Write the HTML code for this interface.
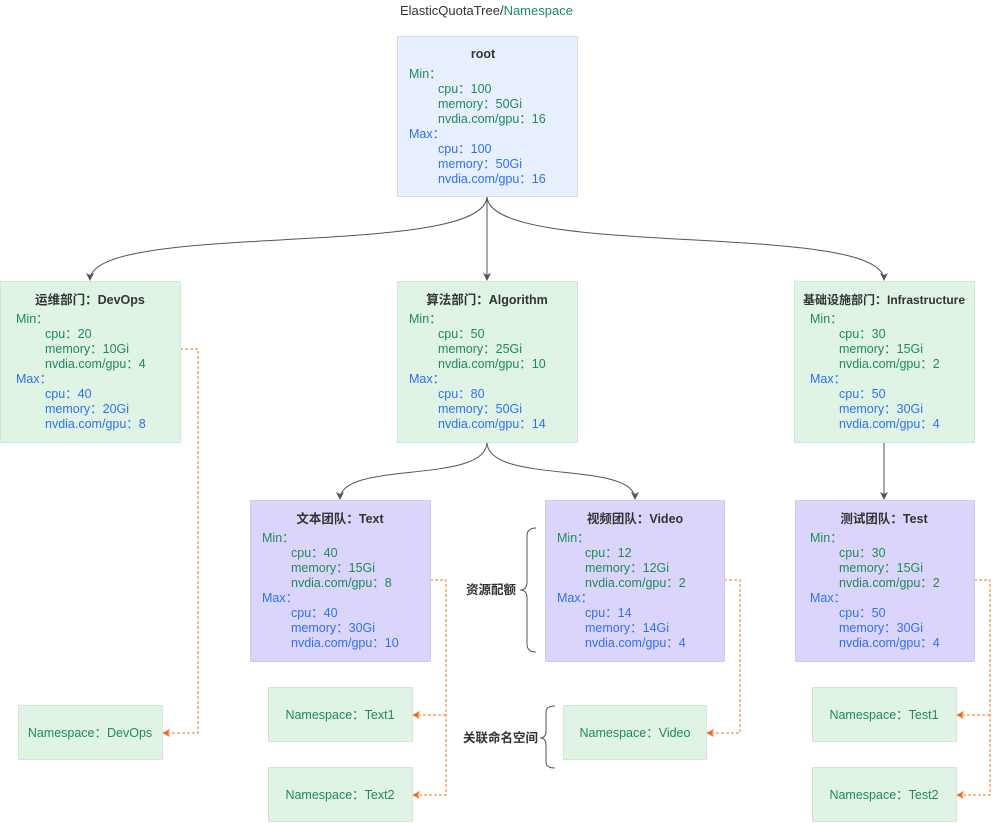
<!DOCTYPE html>
<html><head><meta charset="utf-8"><style>
body{margin:0;background:#fff}
svg{display:block;font-family:"Liberation Sans","Noto Sans CJK SC",sans-serif;font-size:12.5px}
.t{font-weight:bold;fill:#333;text-anchor:middle}
.g{fill:#1f8a5b}.b{fill:#2f72ee}
.d{stroke:#e8742a;stroke-width:1;stroke-dasharray:3,2;fill:none}
.c{stroke:#555;stroke-width:1;fill:none}
</style></head><body>
<svg width="1000" height="823" viewBox="0 0 1000 823">
<defs>
<marker id="a" markerWidth="8" markerHeight="8" refX="7" refY="4" orient="auto" markerUnits="userSpaceOnUse"><path d="M0,0 L8,4 L0,8 L2,4z" fill="#555"/></marker>
<marker id="o" markerWidth="8" markerHeight="8" refX="7" refY="4" orient="auto" markerUnits="userSpaceOnUse"><path d="M0,0 L8,4 L0,8 L2,4z" fill="#f07020"/></marker>
</defs>
<text x="400" y="15" fill="#333" font-size="13">ElasticQuotaTree/<tspan fill="#1f8a5b">Namespace</tspan></text>

<path class="c" d="M487 196 C487 260,90 220,90 280" marker-end="url(#a)"/>
<path class="c" d="M487 196 L487 280" marker-end="url(#a)"/>
<path class="c" d="M487 196 C487 260,884 220,884 280" marker-end="url(#a)"/>
<path class="c" d="M487 442 C487 485,340 460,340 499" marker-end="url(#a)"/>
<path class="c" d="M487 442 C487 485,635 460,635 499" marker-end="url(#a)"/>
<path class="c" d="M884 442 L884 499" marker-end="url(#a)"/>

<path class="d" d="M180 349 H198 V733 H163" marker-end="url(#o)"/>
<path class="d" d="M430 580 H446 V795 H413" marker-end="url(#o)"/>
<path class="d" d="M446 715 H413" marker-end="url(#o)"/>
<path class="d" d="M724 580 H740 V733 H707" marker-end="url(#o)"/>
<path class="d" d="M974 580 H990 V795 H957" marker-end="url(#o)"/>
<path class="d" d="M990 715 H957" marker-end="url(#o)"/>

<g stroke="#d6dbe6" stroke-width="1">
<rect x="397.5" y="36.5" width="180" height="160" fill="#e8effe"/>
<rect x="0.5" y="281.5" width="180" height="161" fill="#dff4e5" stroke="#d2e6d8"/>
<rect x="397.5" y="281.5" width="180" height="161" fill="#dff4e5" stroke="#d2e6d8"/>
<rect x="794.5" y="281.5" width="180" height="161" fill="#dff4e5" stroke="#d2e6d8"/>
<rect x="250.5" y="500.5" width="180" height="161" fill="#dcd5fb" stroke="#d0cbee"/>
<rect x="545.5" y="500.5" width="179" height="161" fill="#dcd5fb" stroke="#d0cbee"/>
<rect x="795.5" y="500.5" width="179" height="161" fill="#dcd5fb" stroke="#d0cbee"/>
<rect x="18.5" y="705.5" width="144" height="54" fill="#dff4e5" stroke="#d2e6d8"/>
<rect x="268.5" y="687.5" width="144" height="54" fill="#dff4e5" stroke="#d2e6d8"/>
<rect x="268.5" y="767.5" width="144" height="54" fill="#dff4e5" stroke="#d2e6d8"/>
<rect x="563.5" y="705.5" width="143" height="54" fill="#dff4e5" stroke="#d2e6d8"/>
<rect x="812.5" y="687.5" width="144" height="54" fill="#dff4e5" stroke="#d2e6d8"/>
<rect x="812.5" y="767.5" width="144" height="54" fill="#dff4e5" stroke="#d2e6d8"/>
</g>

<text class="t" x="483" y="58">root</text>
<text class="g" x="409" y="78">Min：</text>
<text class="g" x="438" y="93">cpu：100</text>
<text class="g" x="438" y="108">memory：50Gi</text>
<text class="g" x="438" y="123">nvdia.com/gpu：16</text>
<text class="b" x="409" y="138">Max：</text>
<text class="b" x="438" y="153">cpu：100</text>
<text class="b" x="438" y="168">memory：50Gi</text>
<text class="b" x="438" y="183">nvdia.com/gpu：16</text>

<text class="t" x="90" y="304">运维部门：DevOps</text>
<text class="g" x="16" y="323">Min：</text>
<text class="g" x="45" y="338">cpu：20</text>
<text class="g" x="45" y="353">memory：10Gi</text>
<text class="g" x="45" y="368">nvdia.com/gpu：4</text>
<text class="b" x="16" y="383">Max：</text>
<text class="b" x="45" y="398">cpu：40</text>
<text class="b" x="45" y="413">memory：20Gi</text>
<text class="b" x="45" y="428">nvdia.com/gpu：8</text>

<text class="t" x="487" y="304">算法部门：Algorithm</text>
<text class="g" x="409" y="323">Min：</text>
<text class="g" x="438" y="338">cpu：50</text>
<text class="g" x="438" y="353">memory：25Gi</text>
<text class="g" x="438" y="368">nvdia.com/gpu：10</text>
<text class="b" x="409" y="383">Max：</text>
<text class="b" x="438" y="398">cpu：80</text>
<text class="b" x="438" y="413">memory：50Gi</text>
<text class="b" x="438" y="428">nvdia.com/gpu：14</text>

<text class="t" x="884" y="304" font-size="12">基础设施部门：Infrastructure</text>
<text class="g" x="810" y="323">Min：</text>
<text class="g" x="839" y="338">cpu：30</text>
<text class="g" x="839" y="353">memory：15Gi</text>
<text class="g" x="839" y="368">nvdia.com/gpu：2</text>
<text class="b" x="810" y="383">Max：</text>
<text class="b" x="839" y="398">cpu：50</text>
<text class="b" x="839" y="413">memory：30Gi</text>
<text class="b" x="839" y="428">nvdia.com/gpu：4</text>

<text class="t" x="340" y="523">文本团队：Text</text>
<text class="g" x="262" y="542">Min：</text>
<text class="g" x="291" y="557">cpu：40</text>
<text class="g" x="291" y="572">memory：15Gi</text>
<text class="g" x="291" y="587">nvdia.com/gpu：8</text>
<text class="b" x="262" y="602">Max：</text>
<text class="b" x="291" y="617">cpu：40</text>
<text class="b" x="291" y="632">memory：30Gi</text>
<text class="b" x="291" y="647">nvdia.com/gpu：10</text>

<text class="t" x="635" y="523">视频团队：Video</text>
<text class="g" x="557" y="542">Min：</text>
<text class="g" x="585" y="557">cpu：12</text>
<text class="g" x="585" y="572">memory：12Gi</text>
<text class="g" x="585" y="587">nvdia.com/gpu：2</text>
<text class="b" x="557" y="602">Max：</text>
<text class="b" x="585" y="617">cpu：14</text>
<text class="b" x="585" y="632">memory：14Gi</text>
<text class="b" x="585" y="647">nvdia.com/gpu：4</text>

<text class="t" x="884" y="523">测试团队：Test</text>
<text class="g" x="810" y="542">Min：</text>
<text class="g" x="839" y="557">cpu：30</text>
<text class="g" x="839" y="572">memory：15Gi</text>
<text class="g" x="839" y="587">nvdia.com/gpu：2</text>
<text class="b" x="810" y="602">Max：</text>
<text class="b" x="839" y="617">cpu：50</text>
<text class="b" x="839" y="632">memory：30Gi</text>
<text class="b" x="839" y="647">nvdia.com/gpu：4</text>

<g class="g" text-anchor="middle">
<text x="90" y="737">Namespace：DevOps</text>
<text x="340" y="719">Namespace：Text1</text>
<text x="340" y="799">Namespace：Text2</text>
<text x="635" y="737">Namespace：Video</text>
<text x="884" y="719">Namespace：Test1</text>
<text x="884" y="799">Namespace：Test2</text>
</g>

<path class="c" stroke="#444" d="M536 528 Q527 528 527 536 V582 Q527 590 520 590 Q527 590 527 598 V644 Q527 652 536 652"/>
<text x="466" y="594" font-weight="bold" fill="#333" font-size="12.5">资源配额</text>
<path class="c" stroke="#444" d="M555 706 Q546 706 546 712 V731 Q546 738 540 738 Q546 738 546 745 V762 Q546 768 555 768"/>
<text x="463" y="742" font-weight="bold" fill="#333" font-size="12.5">关联命名空间</text>
</svg>
</body></html>
